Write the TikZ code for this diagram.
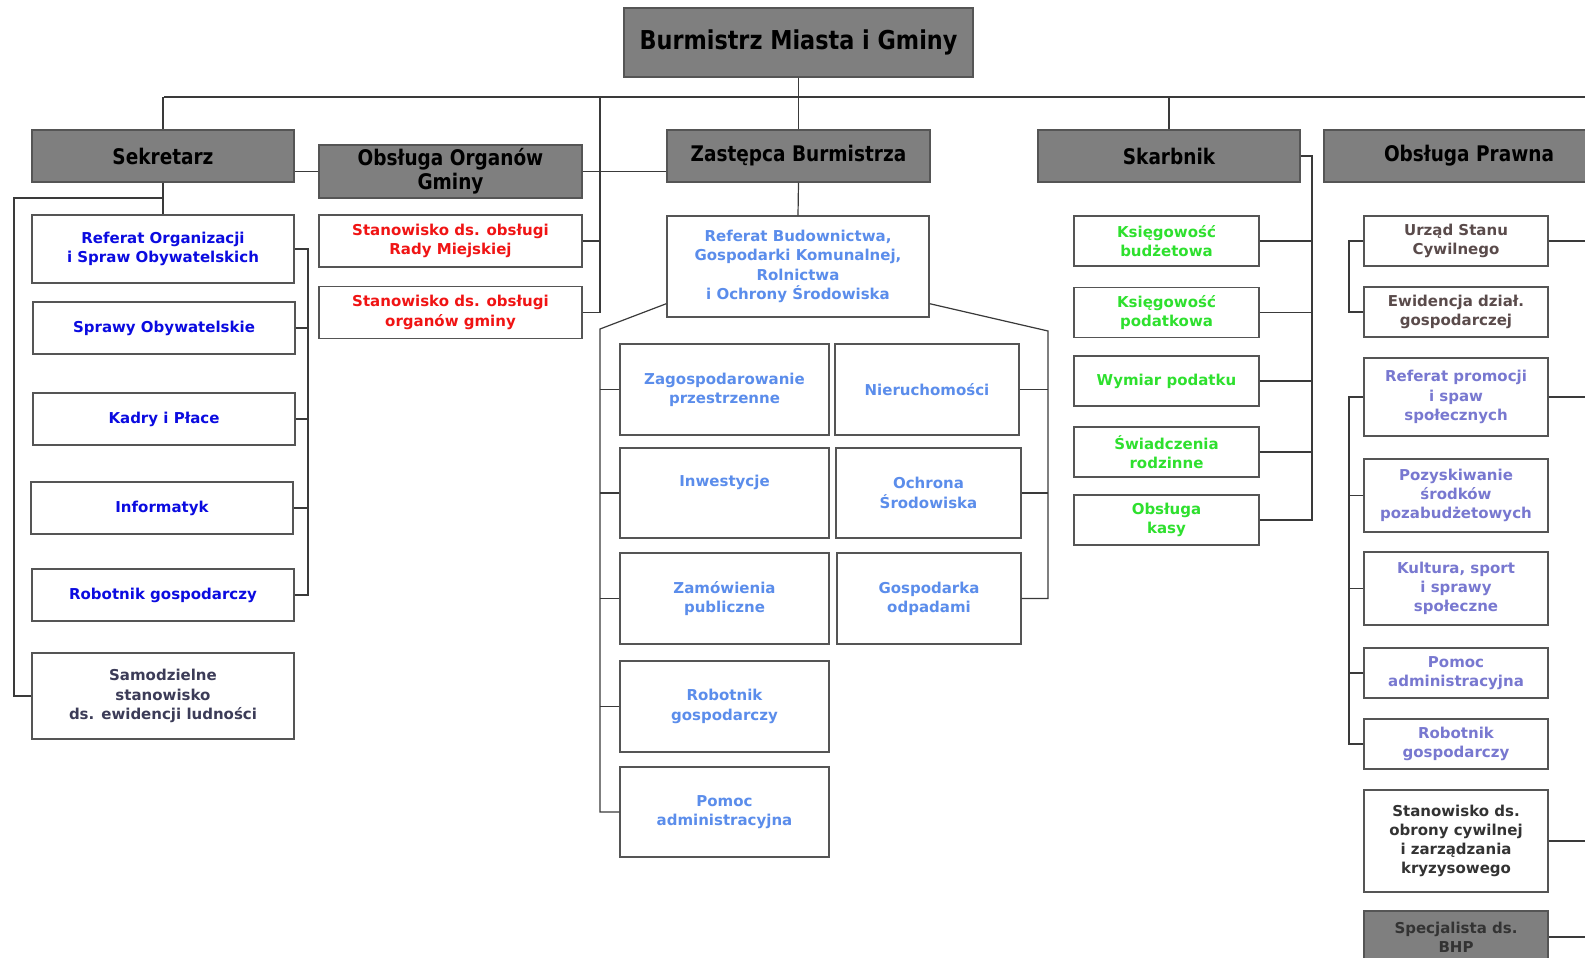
\documentclass[tikz,border=0pt]{standalone}
\usepackage{fontspec}
\setmainfont{DejaVu Sans}
\newfontfamily\headfont{DejaVu Sans}[FakeStretch=0.86]
\usepackage{tikz}
\definecolor{headgray}{HTML}{7F7F7F}
\definecolor{boxgray}{HTML}{555555}
\definecolor{linegray}{HTML}{3A3A3A}
\definecolor{sekblue}{HTML}{0B0BE0}
\definecolor{orgred}{HTML}{F01414}
\definecolor{zastblue}{HTML}{5B8DEB}
\definecolor{skarbgreen}{HTML}{2EE02E}
\definecolor{uscbrown}{HTML}{5A4B4B}
\definecolor{promoviolet}{HTML}{7878D0}
\definecolor{samodzslate}{HTML}{3C3C58}

\begin{document}
\begin{tikzpicture}[x=1pt, y=-1pt, line width=1.2pt, color=linegray,
    sz/.style 2 args={minimum width=#1pt, minimum height=#2pt},
    box/.style={draw=boxgray, line width=1.4pt, fill=white, inner sep=0pt, align=center, font=\bfseries\fontsize{15}{19.2}\selectfont},
    head/.style={box, fill=headgray, text=black, font=\headfont\bfseries\fontsize{21.5}{24}\selectfont},
    sek/.style={box, text=sekblue, sz={262}{52}},
    org/.style={box, text=orgred, sz={263}{52}},
    zst/.style={box, text=zastblue},
    skb/.style={box, text=skarbgreen, sz={185}{50}},
    prw/.style={box, text=promoviolet, sz={184}{50}}]

    \useasboundingbox (0,0) rectangle (1585,958);
    \clip (0,0) rectangle (1585,958);

    \node[head, sz={349}{69}, font=\headfont\bfseries\fontsize{26}{30}\selectfont] (burm) at (798.5,42.5) {Burmistrz Miasta i Gminy};
    \node[head, sz={262}{52}] (sekr) at (163,156) {Sekretarz};
    \node[head, sz={263}{53}] (organy) at (450.5,171.5) {Obsługa Organów\\Gminy};
    \node[head, sz={263}{52}] (zast) at (798.5,156) {Zastępca Burmistrza};
    \node[head, sz={262}{52}] (skarb) at (1169,156) {Skarbnik};
    \node[head, sz={290}{52}] (prawna) at (1469,156) {Obsługa Prawna};

    \node[sek, sz={262}{68}] (refor) at (163,249) {Referat Organizacji\\i Spraw Obywatelskich};
    \node[sek] (sprawy) at (164,328) {Sprawy Obywatelskie};
    \node[sek] (kadry) at (164,419) {Kadry i Płace};
    \node[sek] (inform) at (162,508) {Informatyk};
    \node[sek] (robsek) at (163,595) {Robotnik gospodarczy};
    \node[sek, sz={262}{86}, text=samodzslate] (samodz) at (163,696) {Samodzielne\\stanowisko\\ds. ewidencji ludności};

    \node[org] (stanrm) at (450.5,241) {Stanowisko ds. obsługi\\Rady Miejskiej};
    \node[org] (stanog) at (450.5,312.5) {Stanowisko ds. obsługi\\organów gminy};

    \node[zst, sz={262}{101}] (refbud) at (798,266.5) {Referat Budownictwa,\\Gospodarki Komunalnej,\\Rolnictwa\\i Ochrony Środowiska};
    \node[zst, sz={209}{91}] (zagosp) at (724.5,389.5) {Zagospodarowanie\\przestrzenne};
    \node[zst, sz={184}{91}] (nieruch) at (927,389.5) {Nieruchomości};
    \node[zst, sz={209}{90}] (inwest) at (724.5,493) {Inwestycje\\[6pt]~};
    \node[zst, sz={185}{90}] (ochrona) at (928.5,493) {Ochrona\\Środowiska};
    \node[zst, sz={209}{91}] (zamow) at (724.5,598.5) {Zamówienia\\publiczne};
    \node[zst, sz={184}{91}] (odpady) at (929,598.5) {Gospodarka\\odpadami};
    \node[zst, sz={209}{91}] (robzst) at (724.5,706.5) {Robotnik\\gospodarczy};
    \node[zst, sz={209}{90}] (pomzst) at (724.5,812) {Pomoc\\administracyjna};

    \node[skb] (ksbud) at (1166.5,241) {Księgowość\\budżetowa};
    \node[skb] (kspod) at (1166.5,312.5) {Księgowość\\podatkowa};
    \node[skb] (wymiar) at (1166.5,381) {Wymiar podatku};
    \node[skb] (swiad) at (1166.5,452) {Świadczenia\\rodzinne};
    \node[skb] (kasa) at (1166.5,520) {Obsługa\\kasy};

    \node[prw, text=uscbrown] (usc) at (1456,241) {Urząd Stanu\\Cywilnego};
    \node[prw, text=uscbrown] (ewid) at (1456,312) {Ewidencja dział.\\gospodarczej};
    \node[prw, sz={184}{78}] (promo) at (1456,397) {Referat promocji\\i spaw\\społecznych};
    \node[prw, sz={184}{73}] (pozysk) at (1456,495.5) {Pozyskiwanie\\środków\\pozabudżetowych};
    \node[prw, sz={184}{73}] (kultura) at (1456,588.5) {Kultura, sport\\i sprawy\\społeczne};
    \node[prw] (pomprw) at (1456,673) {Pomoc\\administracyjna};
    \node[prw] (robprw) at (1456,744) {Robotnik\\gospodarczy};
    \node[prw, sz={184}{102}, text=black!80] (obrona) at (1456,841) {Stanowisko ds.\\obrony cywilnej\\i zarządzania\\kryzysowego};
    \node[prw, sz={184}{52}, fill=headgray, text=black!80] (bhp) at (1456,937) {Specjalista ds.\\BHP};

    \coordinate (busL) at (164,97);
    \coordinate (busR) at (1585,97);
    \coordinate (orgbus) at (600,97);
    \coordinate (sekL) at (14,198);
    \coordinate (refbr) at (308,249);
    \coordinate (zstL) at (600,329);
    \coordinate (zstR) at (1048,331);
    \coordinate (skbr) at (1312,156);
    \coordinate (prwA) at (1349,241);
    \coordinate (prwB) at (1349,397);
    \coordinate (edge) at (1585,0);

    \draw (busL) -- (busR);
    \draw (sekr.north) -- (sekr.north |- busL);
    \draw (burm.south) -- (zast.north);
    \draw (skarb.north) -- (skarb.north |- busL);
    \draw (organy.west) -- (organy.west -| sekr.east);
    \draw (organy.east) -- (organy.east -| zast.west);

    \draw (orgbus) |- (stanog.east);
    \draw (stanrm.east) -- (stanrm.east -| orgbus);

    \draw (sekr.south) -- (refor.north);
    \draw (sekr.south |- sekL) -- (sekL) |- (samodz.west);
    \draw (refor.east) -- (refbr) |- (robsek.east);
    \foreach \n in {sprawy,kadry,inform}
        \draw (\n.east) -- (\n.east -| refbr);

    \draw (zast.south) -- (refbud.north);
    \draw ([yshift=14pt]refbud.south west) -- (zstL) |- (pomzst.west);
    \foreach \n in {zagosp,inwest,zamow,robzst}
        \draw (\n.west) -- (\n.west -| zstL);
    \draw ([yshift=14pt]refbud.south east) -- (zstR) |- (odpady.east);
    \foreach \n in {nieruch,ochrona}
        \draw (\n.east) -- (\n.east -| zstR);

    \draw (skarb.east) -- (skbr) |- (kasa.east);
    \foreach \n in {ksbud,kspod,wymiar,swiad}
        \draw (\n.east) -- (\n.east -| skbr);

    \draw (usc.west) -- (prwA) |- (ewid.west);
    \draw (promo.west) -- (prwB) |- (robprw.west);
    \foreach \n in {pozysk,kultura,pomprw}
        \draw (\n.west) -- (\n.west -| prwB);
    \foreach \n in {usc,promo,obrona,bhp}
        \draw (\n.east) -- (\n.east -| edge);

\end{tikzpicture}
\end{document}
